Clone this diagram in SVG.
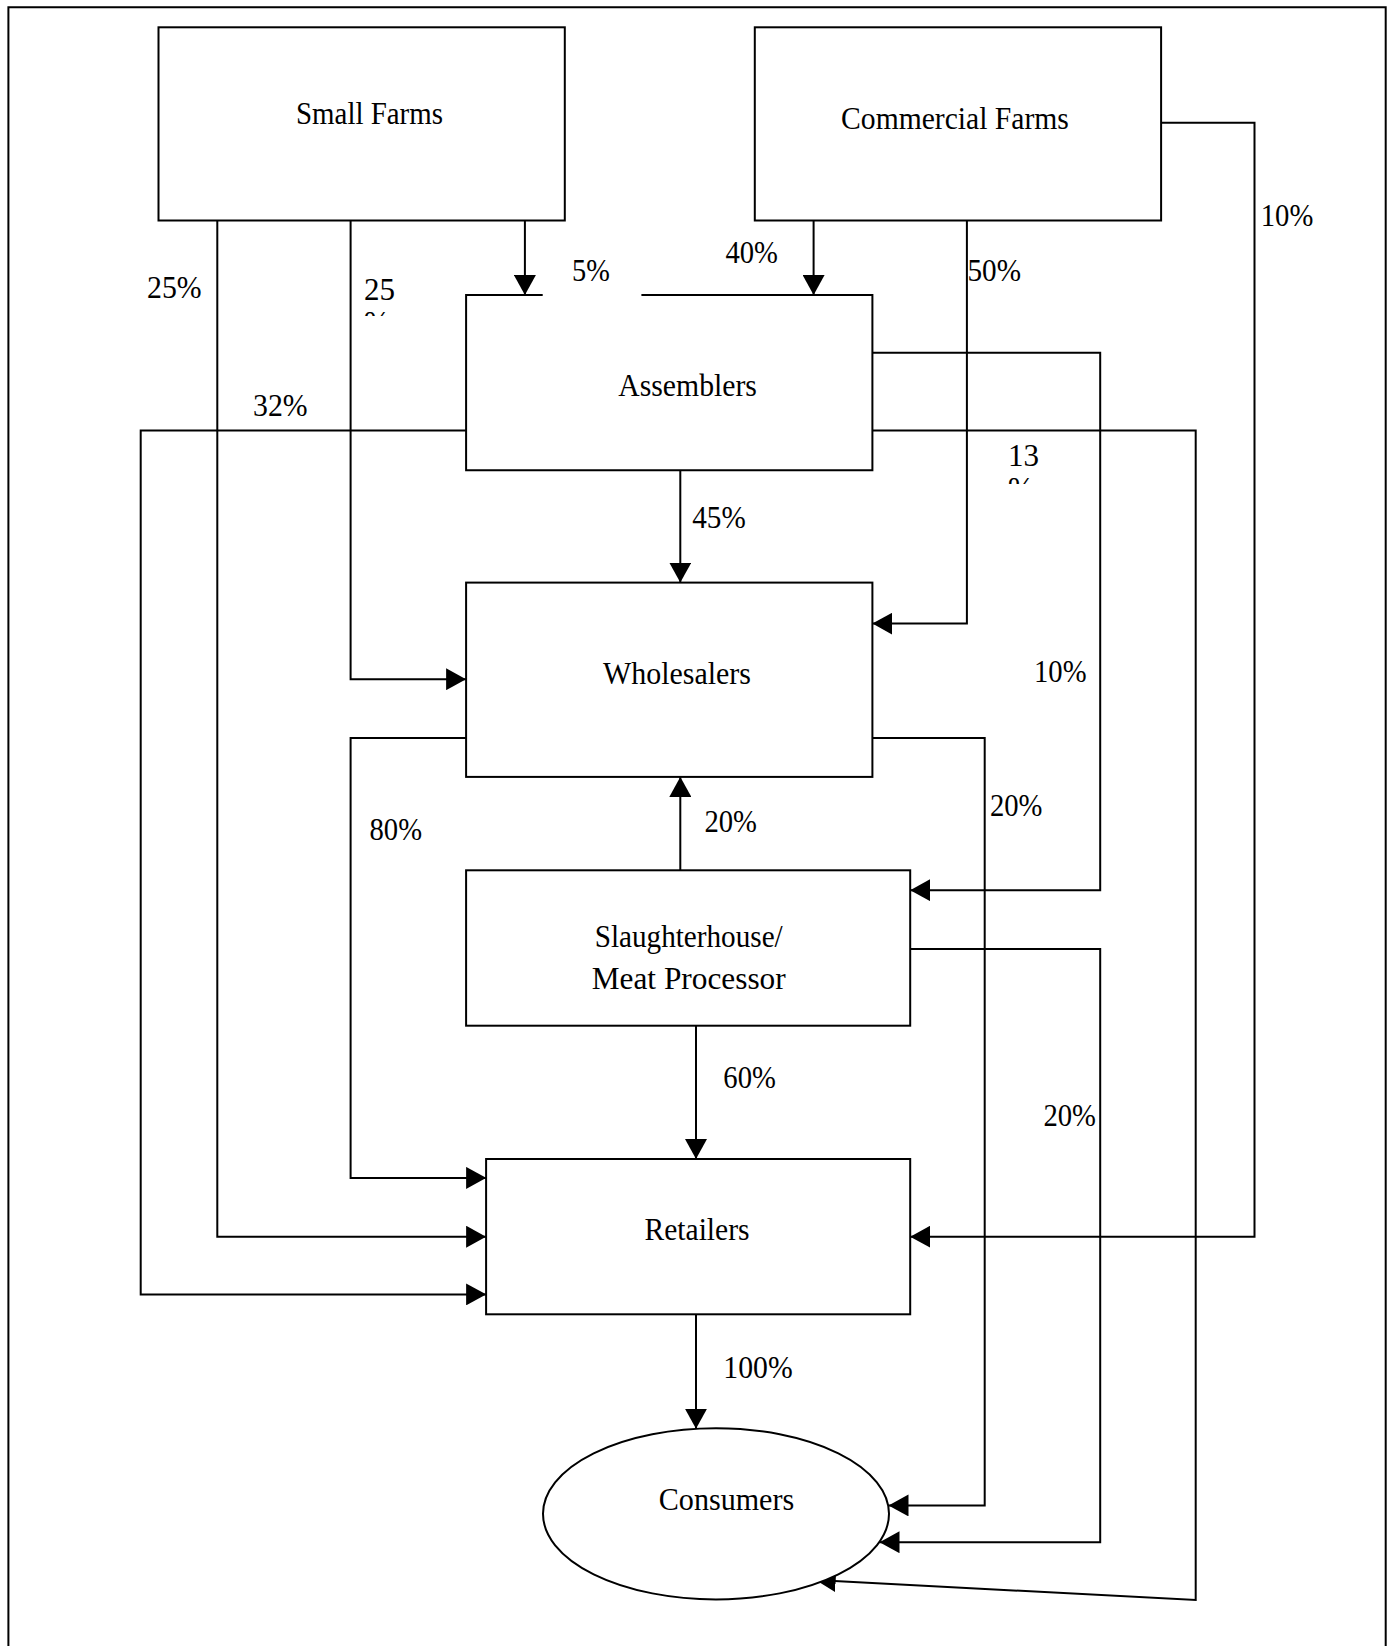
<svg xmlns="http://www.w3.org/2000/svg" width="1392" height="1646" viewBox="0 0 1392 1646">
<style>
.box{fill:#fff;stroke:#000;stroke-width:2}
.ln{fill:none;stroke:#000;stroke-width:2}
.t{font-family:"Liberation Serif","Times New Roman",serif;font-size:32px;fill:#000}
.c{text-anchor:middle}
</style>
<defs>
<marker id="ah" markerUnits="userSpaceOnUse" markerWidth="20" markerHeight="22" refX="20" refY="11" orient="auto" viewBox="0 0 20 22">
<path d="M0,0 L20,11 L0,22 z" fill="#000"/>
</marker>
<clipPath id="clip25"><rect x="355" y="270" width="60" height="46"/></clipPath>
<clipPath id="clip13"><rect x="995" y="430" width="60" height="54"/></clipPath>
</defs>
<rect x="0" y="0" width="1392" height="1646" fill="#fff"/>
<path class="ln" d="M8.4,1646 V7.3 H1385.7 V1646"/>

<g id="connectors">
<path class="ln" d="M217.3,220.5 V1236.7 H486.1" marker-end="url(#ah)"/>
<path class="ln" d="M350.6,220.5 V679.2 H466.1" marker-end="url(#ah)"/>
<path class="ln" d="M524.9,220.5 V295" marker-end="url(#ah)"/>
<path class="ln" d="M813.6,220.5 V295" marker-end="url(#ah)"/>
<path class="ln" d="M966.9,220.5 V623.6 H872.4" marker-end="url(#ah)"/>
<path class="ln" d="M1159,122.8 H1254.5 V1236.7 H910.2" marker-end="url(#ah)"/>
<path class="ln" d="M466.1,430.4 H140.7 V1294.4 H486.1" marker-end="url(#ah)"/>
<path class="ln" d="M870,352.7 H1100.2 V890.2 H910.2" marker-end="url(#ah)"/>
<path class="ln" d="M870,430.4 H1195.7 V1600 L815.7,1580" marker-end="url(#ah)"/>
<path class="ln" d="M680.3,470.3 V582.6" marker-end="url(#ah)"/>
<path class="ln" d="M466.1,738 H350.6 V1177.9 H486.1" marker-end="url(#ah)"/>
<path class="ln" d="M870,738 H984.7 V1505.4 H888.5" marker-end="url(#ah)"/>
<path class="ln" d="M680.3,870.3 V776.9" marker-end="url(#ah)"/>
<path class="ln" d="M696,1025.7 V1159" marker-end="url(#ah)"/>
<path class="ln" d="M908,949 H1100.2 V1542.2 H879.5" marker-end="url(#ah)"/>
<path class="ln" d="M696,1314.3 V1428.8" marker-end="url(#ah)"/>
</g>

<g id="labels">
<text class="t c" x="174.3" y="297.6" textLength="54.6" lengthAdjust="spacingAndGlyphs">25%</text>
<text class="t" x="364" y="299.7" clip-path="url(#clip25)" style="font-size:31px">25<tspan x="364" y="332.7">%</tspan></text>
<text class="t c" x="591" y="280.8" textLength="37.8" lengthAdjust="spacingAndGlyphs">5%</text>
<text class="t c" x="751.7" y="263" textLength="52.5" lengthAdjust="spacingAndGlyphs">40%</text>
<text class="t" x="967.5" y="280.8" textLength="53.5" lengthAdjust="spacingAndGlyphs">50%</text>
<text class="t c" x="1287" y="226.2" textLength="52.5" lengthAdjust="spacingAndGlyphs">10%</text>
<text class="t c" x="280.3" y="416.2" textLength="54.6" lengthAdjust="spacingAndGlyphs">32%</text>
<text class="t" x="1008" y="465.6" clip-path="url(#clip13)" style="font-size:31px">13<tspan x="1008" y="498.6">%</tspan></text>
<text class="t c" x="719" y="527.5" textLength="53.5" lengthAdjust="spacingAndGlyphs">45%</text>
<text class="t c" x="1060.3" y="681.8" textLength="52.5" lengthAdjust="spacingAndGlyphs">10%</text>
<text class="t c" x="1016.2" y="816.2" textLength="52.5" lengthAdjust="spacingAndGlyphs">20%</text>
<text class="t c" x="730.7" y="832" textLength="52.5" lengthAdjust="spacingAndGlyphs">20%</text>
<text class="t c" x="395.8" y="840.3" textLength="52.5" lengthAdjust="spacingAndGlyphs">80%</text>
<text class="t c" x="749.6" y="1088" textLength="52.5" lengthAdjust="spacingAndGlyphs">60%</text>
<text class="t c" x="1069.7" y="1125.9" textLength="52.5" lengthAdjust="spacingAndGlyphs">20%</text>
<text class="t c" x="758" y="1377.8" textLength="69.3" lengthAdjust="spacingAndGlyphs">100%</text>
</g>

<g id="small-farms">
<rect class="box" x="158.5" y="27.3" width="406.3" height="193.2"/>
<text class="t c" x="369.5" y="124.4" textLength="147" lengthAdjust="spacingAndGlyphs">Small Farms</text>
</g>
<g id="commercial-farms">
<rect class="box" x="754.8" y="27.3" width="406.3" height="193.2"/>
<text class="t c" x="955" y="128.6" textLength="227.8" lengthAdjust="spacingAndGlyphs">Commercial Farms</text>
</g>
<g id="assemblers">
<rect x="466.1" y="295" width="406.3" height="175.3" fill="#fff"/>
<path class="ln" d="M542.7,295 H466.1 V470.3 H872.4 V295 H641.4"/>
<text class="t c" x="687.6" y="396.3" textLength="138.6" lengthAdjust="spacingAndGlyphs">Assemblers</text>
</g>
<g id="wholesalers">
<rect class="box" x="466.1" y="582.6" width="406.3" height="194.3"/>
<text class="t c" x="677" y="684" textLength="148" lengthAdjust="spacingAndGlyphs">Wholesalers</text>
</g>
<g id="slaughterhouse">
<rect class="box" x="466.1" y="870.3" width="444.1" height="155.4"/>
<text class="t c" x="688.7" y="947.4" textLength="188" lengthAdjust="spacingAndGlyphs">Slaughterhouse/</text>
<text class="t c" x="688.7" y="989.4" textLength="194" lengthAdjust="spacingAndGlyphs">Meat Processor</text>
</g>
<g id="retailers">
<rect class="box" x="486.1" y="1159" width="424.1" height="155.3"/>
<text class="t c" x="697" y="1240" textLength="105" lengthAdjust="spacingAndGlyphs">Retailers</text>
</g>
<g id="consumers">
<ellipse class="box" cx="716" cy="1513.8" rx="173" ry="85.6"/>
<text class="t c" x="726.5" y="1510" textLength="135.4" lengthAdjust="spacingAndGlyphs">Consumers</text>
</g>
</svg>
